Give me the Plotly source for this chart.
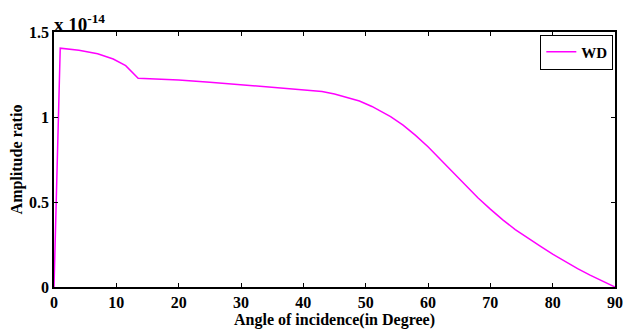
import plotly.graph_objects as go

angle = [0, 1, 4, 7, 9.5, 11.5, 13.5, 20, 25, 30, 35, 40, 43, 45, 47, 49, 51, 54, 56, 58,
         60, 62, 64, 66, 68, 70, 72, 74, 76, 78, 80, 82, 84, 86, 88, 90]
wd = [0, 1.405, 1.392, 1.372, 1.341, 1.302, 1.228, 1.218, 1.205, 1.19, 1.177, 1.163, 1.15,
      1.135, 1.115, 1.094, 1.062, 1.002, 0.952, 0.892, 0.825, 0.75, 0.675, 0.6, 0.525, 0.458,
      0.395, 0.338, 0.287, 0.24, 0.193, 0.15, 0.108, 0.07, 0.035, 0]
xticks = [0, 10, 20, 30, 40, 50, 60, 70, 80, 90]
yticks = [0, 0.5, 1, 1.5]
ytext = ["0", "0.5", "1", "1.5"]

fam = "Liberation Serif, Times New Roman, serif"
font = dict(family=fam, size=16, color="black")

fig = go.Figure()
fig.add_trace(go.Scatter(x=angle, y=wd, mode="lines", name="<b>WD</b>",
                         line=dict(color="#ff00ff", width=1.5)))

axis_common = dict(showline=True, linecolor="black", linewidth=1.5, mirror="allticks",
                   ticks="inside", ticklen=4, tickcolor="black", tickwidth=1,
                   showgrid=False, zeroline=False,
                   tickfont=dict(family=fam, size=16, color="black"))

fig.update_xaxes(range=[0, 90], tickvals=xticks, ticktext=[f"<b>{t}</b>" for t in xticks],
                 title=dict(text="<b>Angle of incidence(in Degree)</b>", standoff=0,
                            font=dict(family=fam, size=16)),
                 **axis_common)
fig.update_yaxes(range=[0, 1.5], tickvals=yticks, ticktext=[f"<b>{t}</b>" for t in ytext],
                 title=dict(text="<b>Amplitude ratio</b>", standoff=2,
                            font=dict(family=fam, size=16)),
                 **axis_common)

fig.add_annotation(xref="paper", yref="paper", x=0, y=1, xanchor="left", yanchor="bottom",
                   text="<b>x 10<sup>-14</sup></b>", showarrow=False,
                   font=dict(family=fam, size=19, color="black"), yshift=-5, xshift=-2)

fig.update_layout(width=623, height=322, margin=dict(l=45, r=8, t=24, b=41),
                  plot_bgcolor="white", paper_bgcolor="white", font=font,
                  showlegend=True,
                  legend=dict(x=0.997, y=0.99, xanchor="right", yanchor="top",
                              bordercolor="black", borderwidth=1, bgcolor="white",
                              font=dict(family=fam, size=15),
                              itemwidth=30, tracegroupgap=0))

fig.write_html("out.html")
